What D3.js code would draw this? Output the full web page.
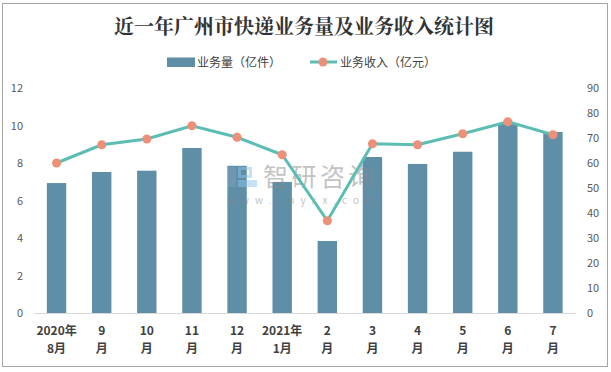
<!DOCTYPE html>
<html>
<head>
<meta charset="utf-8">
<script src="https://cdn.jsdelivr.net/npm/d3@7"></script>
<style>
  body { margin: 0; background: #fff; }
  text { font-family: "Noto Sans CJK SC", "DejaVu Sans", sans-serif; }
</style>
</head>
<body>
<div id="chart"></div>
<script>
const months = ["2020年|8月", "9|月", "10|月", "11|月", "12|月", "2021年|1月", "2|月", "3|月", "4|月", "5|月", "6|月", "7|月"];
const volume = [6.93, 7.52, 7.59, 8.8, 7.85, 6.99, 3.84, 8.32, 7.95, 8.6, 10.08, 9.65];   // 亿件
const income = [60.0, 67.3, 69.6, 74.9, 70.3, 63.3, 36.9, 67.7, 67.3, 71.7, 76.5, 71.3];  // 亿元
const leftTicks = [0, 2, 4, 6, 8, 10, 12];
const rightTicks = [0, 10, 20, 30, 40, 50, 60, 70, 80, 90];

const width = 611, height = 372,
    margin = ({ top: 88, right: 36, bottom: 59, left: 34 });

const svg = d3.select("#chart")
    .append("svg")
    .attr("width", width)
    .attr("height", height);

// frame
svg.append("rect")
    .attr("x", 2.5).attr("y", 3.5)
    .attr("width", 605).attr("height", 363)
    .attr("fill", "#fff")
    .attr("stroke", "#a6a6a6");

let x = d3.scaleBand()
    .domain(months)
    .range([margin.left, 575.5])
    .paddingInner(0.57)
    .paddingOuter(0.285);

let y = d3.scaleLinear()
    .domain([0, 12])
    .range([height - margin.bottom, margin.top]);

let y2 = d3.scaleLinear()
    .domain([0, 90])
    .range([height - margin.bottom, margin.top]);

// title
svg.append("text")
    .attr("x", 304)
    .attr("y", 34)
    .attr("text-anchor", "middle")
    .attr("font-size", 20)
    .attr("font-weight", "bold")
    .attr("fill", "#333")
    .style("font-family", "'Noto Serif CJK SC', 'Noto Sans CJK SC', serif")
    .text("近一年广州市快递业务量及业务收入统计图");

// bars
svg.append("g")
    .selectAll("rect")
    .data(volume)
    .join("rect")
    .attr("x", (d, i) => x(months[i]))
    .attr("y", d => y(d))
    .attr("width", x.bandwidth())
    .attr("height", d => y(0) - y(d))
    .attr("fill", "#5e8fa7");

// x axis line
svg.append("line")
    .attr("x1", margin.left).attr("x2", 575.5)
    .attr("y1", y(0) + 0.5).attr("y2", y(0) + 0.5)
    .attr("stroke", "#d9d9d9");

// watermark (on top of the bars)
const wm = svg.append("g").attr("opacity", 0.5);
wm.append("rect").attr("x", 228).attr("y", 167).attr("width", 8).attr("height", 20).attr("fill", "#7f9fbf");
wm.append("rect").attr("x", 239.5).attr("y", 168.5).attr("width", 11).attr("height", 8).attr("fill", "none").attr("stroke", "#8fc3ea").attr("stroke-width", 3);
wm.append("rect").attr("x", 238).attr("y", 180).attr("width", 19).attr("height", 7).attr("fill", "#8fc3ea");
wm.append("text").attr("x", 263).attr("y", 186).attr("font-size", 25).attr("fill", "#888")
    .attr("letter-spacing", 3.5).text("智研咨询");
wm.append("text").attr("x", 227).attr("y", 204).attr("font-size", 10).attr("fill", "#888")
    .attr("letter-spacing", 6).text("www.chyxx.com");

// left ticks
svg.append("g")
    .selectAll("text")
    .data(leftTicks)
    .join("text")
    .attr("x", 23)
    .attr("y", d => y(d) + 4)
    .attr("text-anchor", "end")
    .attr("font-size", 11)
    .attr("fill", "#595959")
    .text(d => d);

// right ticks
svg.append("g")
    .selectAll("text")
    .data(rightTicks)
    .join("text")
    .attr("x", 587)
    .attr("y", d => y2(d) + 4)
    .attr("text-anchor", "start")
    .attr("font-size", 11)
    .attr("fill", "#595959")
    .text(d => d);

// category labels (two lines)
const cat = svg.append("g")
    .selectAll("text")
    .data(months)
    .join("text")
    .attr("text-anchor", "middle")
    .attr("font-size", 12)
    .attr("font-weight", "bold")
    .attr("fill", "#404040");
cat.append("tspan").attr("x", d => x(d) + x.bandwidth() / 2).attr("y", 335).text(d => d.split("|")[0]);
cat.append("tspan").attr("x", d => x(d) + x.bandwidth() / 2).attr("y", 353).text(d => d.split("|")[1]);

// line
let line = d3.line()
    .x((d, i) => x(months[i]) + x.bandwidth() / 2)
    .y(d => y2(d));

svg.append("path")
    .datum(income)
    .attr("fill", "none")
    .attr("stroke", "#5bbdb4")
    .attr("stroke-width", 3)
    .attr("d", line);

svg.append("g")
    .selectAll("circle")
    .data(income)
    .join("circle")
    .attr("cx", (d, i) => x(months[i]) + x.bandwidth() / 2)
    .attr("cy", d => y2(d))
    .attr("r", 4.5)
    .attr("fill", "#ee8f78");

// legend
const lg = svg.append("g");
lg.append("rect").attr("x", 167).attr("y", 57.5).attr("width", 28).attr("height", 9.5).attr("fill", "#5e8fa7");
lg.append("text").attr("x", 197).attr("y", 67).attr("font-size", 12).attr("fill", "#404040").text("业务量（亿件）");
lg.append("line").attr("x1", 310).attr("x2", 337).attr("y1", 62).attr("y2", 62)
    .attr("stroke", "#5bbdb4").attr("stroke-width", 3);
lg.append("circle").attr("cx", 323).attr("cy", 62).attr("r", 4.5).attr("fill", "#ee8f78");
lg.append("text").attr("x", 340).attr("y", 67).attr("font-size", 12).attr("fill", "#404040").text("业务收入（亿元）");
</script>
</body>
</html>
